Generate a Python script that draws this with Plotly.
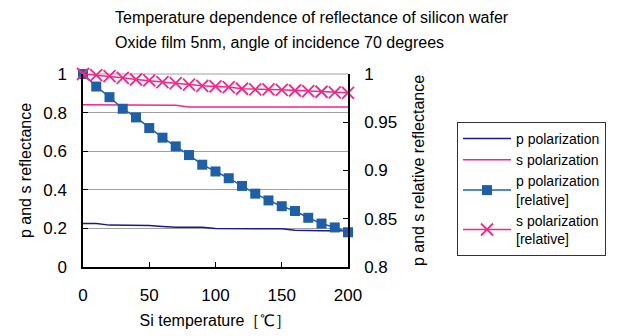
import plotly.graph_objects as go

temps = [0, 10, 20, 30, 40, 50, 60, 70, 80, 90, 100, 110, 120, 130, 140, 150, 160, 170, 180, 190, 200]
p_refl = [0.226, 0.225, 0.217, 0.216, 0.216, 0.215, 0.210, 0.206, 0.206, 0.206, 0.200, 0.200, 0.200,
          0.199, 0.199, 0.198, 0.190, 0.188, 0.188, 0.188, 0.188]
s_refl = [0.841, 0.841, 0.841, 0.841, 0.841, 0.841, 0.841, 0.838, 0.829, 0.829, 0.829, 0.829, 0.829,
          0.829, 0.829, 0.829, 0.829, 0.829, 0.829, 0.829, 0.829]
p_rel = [1.000, 0.987, 0.976, 0.964, 0.955, 0.944, 0.934, 0.925, 0.916, 0.906, 0.899, 0.892, 0.884,
         0.876, 0.869, 0.863, 0.858, 0.851, 0.845, 0.841, 0.836]
s_rel = [1.000, 0.9988, 0.9978, 0.9960, 0.9943, 0.9933, 0.9916, 0.9905, 0.9891, 0.9878, 0.9871,
         0.9864, 0.9847, 0.9840, 0.9840, 0.9836, 0.9829, 0.9823, 0.9816, 0.9809, 0.9805]

left_ticks = [0, 0.2, 0.4, 0.6, 0.8, 1]
left_labels = ["0", "0.2", "0.4", "0.6", "0.8", "1"]
right_ticks = [0.8, 0.85, 0.9, 0.95, 1]
right_labels = ["0.8", "0.85", "0.9", "0.95", "1"]
x_ticks = [0, 50, 100, 150, 200]
title_lines = ["Temperature dependence of reflectance of silicon wafer",
               "Oxide film 5nm, angle of incidence 70 degrees"]
series_names = ["p polarization", "s polarization", "p polarization<br>[relative]",
                "s polarization<br>[relative]"]

font = "Liberation Sans, Arial, sans-serif"
PT, PH = 74, 193  # plot top / height in px (for annotation placement)

fig = go.Figure()
fig.add_trace(go.Scatter(x=temps, y=p_refl, mode="lines", name=series_names[0],
                         line=dict(color="#1a1a8c", width=1.5), yaxis="y"))
fig.add_trace(go.Scatter(x=temps, y=s_refl, mode="lines", name=series_names[1],
                         line=dict(color="#f0288c", width=1.5), yaxis="y"))
fig.add_trace(go.Scatter(x=temps, y=p_rel, mode="lines+markers", name=series_names[2],
                         line=dict(color="#1f5fa8", width=1.5), cliponaxis=False,
                         marker=dict(symbol="square", size=10, color="#1f5fa8"), yaxis="y2"))
fig.add_trace(go.Scatter(x=temps, y=s_rel, mode="lines+markers", name=series_names[3],
                         line=dict(color="#f0288c", width=1.5), cliponaxis=False,
                         marker=dict(symbol="x-thin", size=12, color="#f0288c",
                                     line=dict(color="#f0288c", width=1.8)), yaxis="y2"))

fig.update_layout(
    width=626, height=336,
    margin=dict(l=83, r=278, t=74, b=69, autoexpand=False),
    paper_bgcolor="white", plot_bgcolor="white",
    font=dict(family=font, size=16, color="black"),
    showlegend=True,
    legend=dict(xref="container", yref="container", x=457 / 626, y=1 - 122 / 336,
                xanchor="left", yanchor="top", itemwidth=48, entrywidth=160,
                bordercolor="#333333", borderwidth=1, bgcolor="white",
                font=dict(size=14, family=font), tracegroupgap=0),
    xaxis=dict(range=[0, 200], tickvals=x_ticks, ticks="inside", ticklen=5, tickcolor="black",
               tickfont=dict(size=17), ticklabelstandoff=12,
               showline=True, linecolor="black", linewidth=1.5, showgrid=False, zeroline=False,
               title=dict(text="Si temperature［℃］", standoff=11, font=dict(size=16))),
    yaxis=dict(range=[0, 1], tickvals=left_ticks, ticktext=left_labels, ticks="inside", ticklen=5,
               tickfont=dict(size=17), ticklabelstandoff=11,
               tickcolor="black", showline=True, linecolor="black", linewidth=1.5,
               showgrid=True, gridcolor="#a0a0a0", gridwidth=1, zeroline=False,
               title=dict(text="p and s reflectance", standoff=8, font=dict(size=16))),
    yaxis2=dict(range=[0.8, 1], tickvals=right_ticks, ticktext=right_labels, overlaying="y", side="right",
                ticks="inside", ticklen=5, tickcolor="black", showline=True, linecolor="black",
                tickfont=dict(size=17), ticklabelstandoff=11,
                linewidth=1.5, showgrid=False, zeroline=False,
                title=dict(text="p and s relative reflectance", standoff=17, font=dict(size=16))),
    annotations=[
        dict(xref="paper", yref="paper", x=(113 - 83) / 265, y=1 + (PT - 17) / PH,
             xanchor="left", yanchor="middle", align="left", showarrow=False,
             text=title_lines[0], font=dict(size=16, family=font)),
        dict(xref="paper", yref="paper", x=(113 - 83) / 265, y=1 + (PT - 42) / PH,
             xanchor="left", yanchor="middle", align="left", showarrow=False,
             text=title_lines[1], font=dict(size=16, family=font)),
    ],
    shapes=[dict(type="line", xref="paper", yref="paper", x0=0, x1=1, y0=1, y1=1,
                 line=dict(color="#a0a0a0", width=1), layer="below")],
)

fig.write_html("out.html")
